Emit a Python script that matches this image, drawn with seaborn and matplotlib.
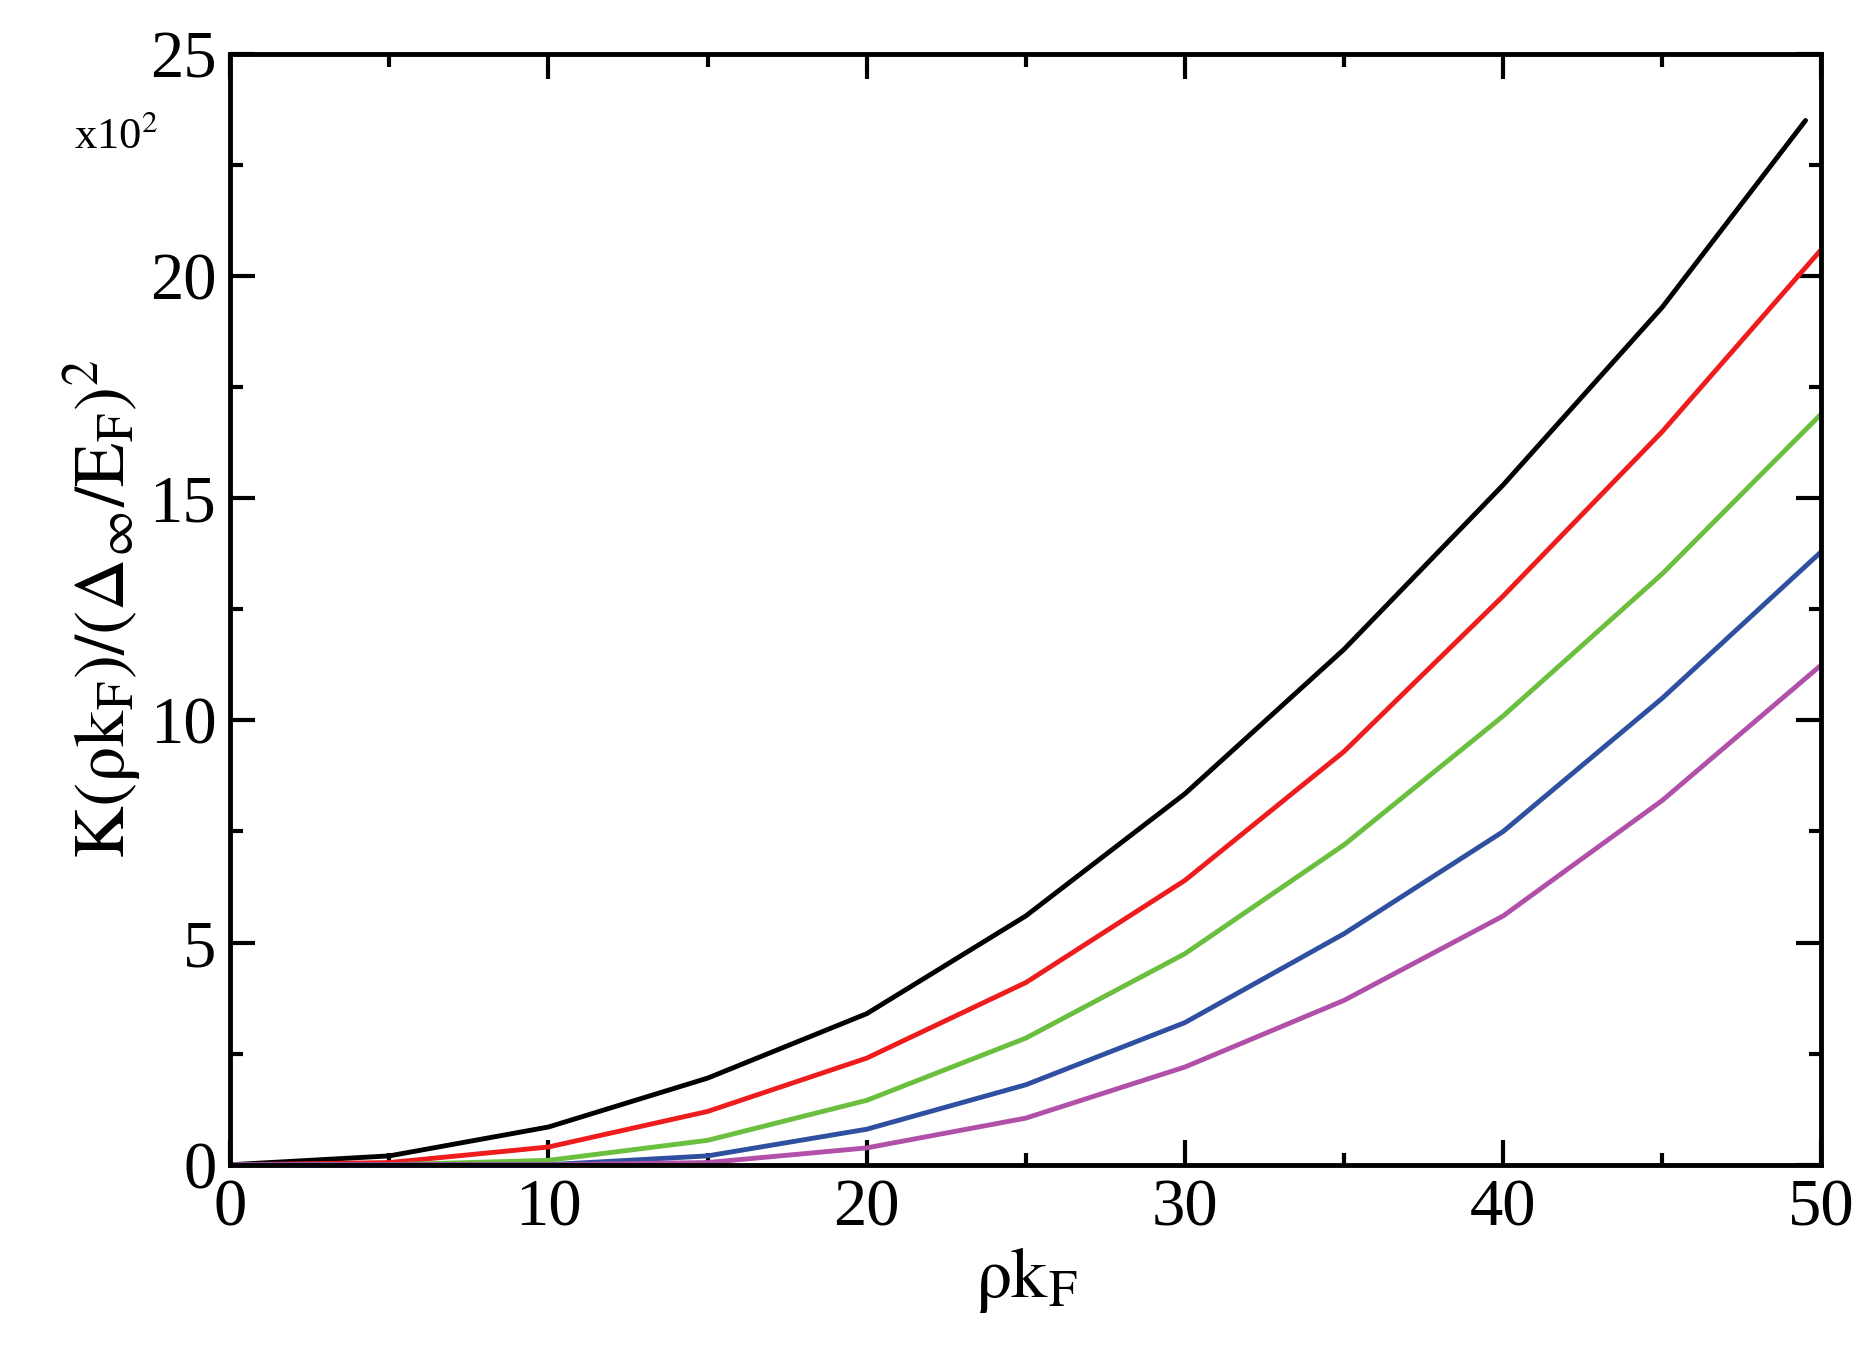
import matplotlib
matplotlib.use("Agg")
import matplotlib.pyplot as plt
import seaborn as sns
import pandas as pd
from matplotlib.ticker import MultipleLocator

sns.set_theme(style="ticks")
plt.rcParams['font.family'] = ['Liberation Serif', 'DejaVu Serif']
plt.rcParams['mathtext.fontset'] = 'stix'

x_main = [0, 5, 10, 15, 20, 25, 30, 35, 40, 45, 49.5]
x_std = [0, 5, 10, 15, 20, 25, 30, 35, 40, 45, 50]
black = [0, 0.2, 0.85, 1.95, 3.4, 5.6, 8.35, 11.6, 15.3, 19.3, 23.5]
red = [0, 0.05, 0.4, 1.2, 2.4, 4.1, 6.4, 9.3, 12.8, 16.5, 20.6]
green = [0, 0, 0.1, 0.55, 1.45, 2.85, 4.75, 7.2, 10.1, 13.3, 16.9]
blue = [0, 0, 0, 0.2, 0.8, 1.8, 3.2, 5.2, 7.5, 10.5, 13.8]
magenta = [0, 0, 0, 0.05, 0.38, 1.05, 2.2, 3.7, 5.6, 8.2, 11.25]

series = [("black", x_main, black, "#000000"), ("red", x_std, red, "#ee1c1c"),
          ("green", x_std, green, "#6abf3f"), ("blue", x_std, blue, "#2f4fa0"),
          ("magenta", x_std, magenta, "#b050a8")]

fig = plt.figure(figsize=(18.72, 13.45), dpi=100)
ax = fig.add_axes([0.123, 0.134, 0.85, 0.826])
for name, xs, ys, c in series:
    df = pd.DataFrame({"x": xs, "y": ys})
    sns.lineplot(data=df, x="x", y="y", ax=ax, color=c, lw=3.5)

ax.set_xlim(0, 50)
ax.set_ylim(0, 25)
ax.xaxis.set_major_locator(MultipleLocator(10))
ax.xaxis.set_minor_locator(MultipleLocator(5))
ax.yaxis.set_major_locator(MultipleLocator(5))
ax.yaxis.set_minor_locator(MultipleLocator(2.5))
ax.tick_params(which='both', direction='in', top=True, right=True, width=3, colors='black')
ax.tick_params(which='major', length=18, labelsize=48, pad=10)
ax.tick_params(which='minor', length=9)
for s in ax.spines.values():
    s.set_linewidth(3.5)
    s.set_color('black')
ax.set_xlabel(r"$\mathrm{\rho k_F}$", fontsize=52, color='black')
ax.set_ylabel(r"$\mathrm{K(\rho k_F)/(\Delta_\infty/E_F)^2}$", fontsize=52, color='black')
ax.text(-0.045, 0.915, r"x10$^2$", transform=ax.transAxes, ha='right', fontsize=32, color='black')
fig.savefig("out.png", dpi=100)
